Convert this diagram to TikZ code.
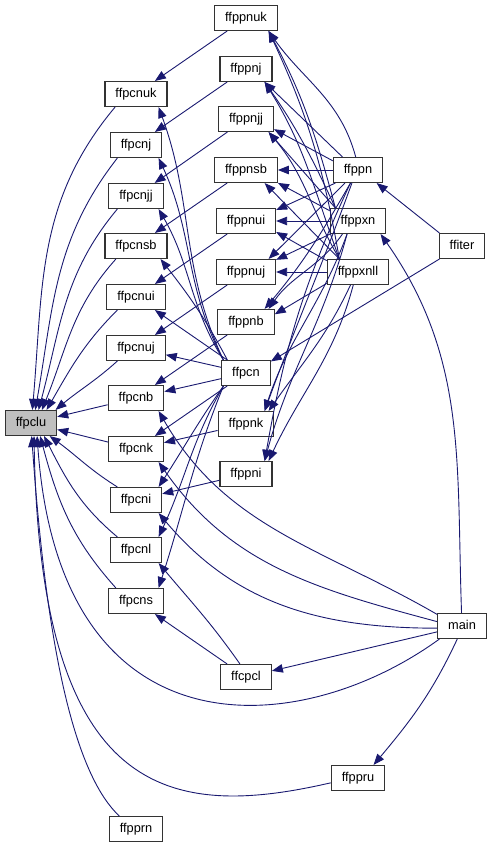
\documentclass[tikz,border=0pt]{standalone}
\usepackage{fontspec}
\setmainfont{Liberation Sans}
\usetikzlibrary{arrows.meta}
\definecolor{callblue}{HTML}{191970}
\definecolor{rootgray}{HTML}{BFBFBF}

\begin{document}
\begin{tikzpicture}[
        x=1pt, y=1pt,
        func/.style={
            % The shape:
            rectangle,
            % The size:
            minimum height=25pt,
            inner xsep=10.5pt,
            inner ysep=0pt,
            text height=9.3pt,
            text depth=2.7pt,
            % The border
            line width=1.1pt,
            draw=black!80,
            % The filling
            fill=white,
            % Font
            font=\fontsize{12.8}{15}\selectfont
        },
        root/.style={func, fill=rootgray},
        call/.style={
            draw=callblue,
            line width=0.9pt,
            -{Triangle[length=11pt,width=8.5pt]}
        }]

    \useasboundingbox (0,0) rectangle (493,-848);

    % the routine that all others reach
    \node [root] (ffpclu) at (31,-423) {ffpclu};

    % first column
    \foreach \name/\y in {ffpcnuk/94, ffpcnj/145, ffpcnjj/196, ffpcnsb/246, ffpcnui/297, ffpcnuj/348, ffpcnb/398, ffpcnk/449, ffpcni/500, ffpcnl/550, ffpcns/601, ffpprn/829}
    {
        \node [func] (\name) at (136,-\y) {\name};
    }

    % second column
    \foreach \name/\y in {ffppnuk/18, ffppnj/69, ffppnjj/119, ffppnsb/170, ffppnui/221, ffppnuj/272, ffppnb/322, ffpcn/373, ffppnk/424, ffppni/474, ffcpcl/677}
    {
        \node [func] (\name) at (246,-\y) {\name};
    }

    % third column
    \foreach \name/\y in {ffppn/170, ffppxn/221, ffppxnll/272, ffppru/778}
    {
        \node [func] (\name) at (358,-\y) {\name};
    }

    \node [func] (ffiter) at (462,-246) {ffiter};
    \node [func] (main) at (462,-626) {main};

    % calls into ffpclu
    \foreach \src/\sa/\o/\i/\ea in {ffpcnuk/212/230/85/84, ffpcnj/215/232/80/72, ffpcnjj/215/230/75/60, ffpcnsb/213/228/68/50, ffpcnui/215/225/60/40, ffpcnuj/215/222/40/28, ffpcni/145/148/-36/-35, ffpcnl/145/140/-63/-45, ffpcns/147/132/-75/-55}
    {
        \draw [call] (\src.\sa) to[out=\o,in=\i] (ffpclu.\ea);
    }
    \draw [call] (ffpcnb) -- (ffpclu);
    \draw [call] (ffpcnk) -- (ffpclu);
    \draw [call] (main.210) to[out=216,in=-86,out distance=173pt,in distance=324pt] (ffpclu.-65);
    \draw [call] (ffppru.190) to[out=193,in=-89,out distance=165pt,in distance=363pt] (ffpclu.-77);
    \draw [call] (ffpprn.142) to[out=137,in=-86,out distance=69pt,in distance=184pt] (ffpclu.-87);

    % ffpcn
    \foreach \dst/\sa/\o/\i/\ea in {ffpcnuk/150/115/-70/-30, ffpcnj/150/118/-65/-30, ffpcnjj/150/122/-60/-30, ffpcnsb/145/118/-52/-28, ffpcni/-150/-125/57/30, ffpcnl/-150/-120/65/30, ffpcns/-150/-112/72/30}
    {
        \draw [call] (ffpcn.\sa) to[out=\o,in=\i] (\dst.\ea);
    }
    \foreach \dst in {ffpcnui, ffpcnuj, ffpcnb, ffpcnk}
    {
        \draw [call] (ffpcn) -- (\dst);
    }

    % ffppn* onto ffpcn*
    \foreach \src/\dst in {ffppnuk/ffpcnuk, ffppnj/ffpcnj, ffppnjj/ffpcnjj, ffppnsb/ffpcnsb, ffppnui/ffpcnui, ffppnuj/ffpcnuj, ffppnb/ffpcnb, ffppnk/ffpcnk, ffppni/ffpcni}
    {
        \draw [call] (\src) -- (\dst);
    }

    % ffppn, ffppxn, ffppxnll onto ffppn*
    \foreach \src/\sa/\dst/\ea in {ffppn/140/ffppnj/-35, ffppn/160/ffppnjj/-20, ffppn/180/ffppnsb/0, ffppn/-150/ffppnui/20, ffppn/-135/ffppnuj/30, ffppxn/150/ffppnjj/-30, ffppxn/160/ffppnsb/-22, ffppxn/180/ffppnui/0, ffppxn/-155/ffppnuj/22, ffppxnll/145/ffppnsb/-35, ffppxnll/160/ffppnui/-20, ffppxnll/180/ffppnuj/0, ffppxnll/-160/ffppnb/15}
    {
        \draw [call] (\src.\sa) -- (\dst.\ea);
    }
    \foreach \src/\sa/\o/\i/\dst/\ea in {ffppn/100/105/-55/ffppnuk/-30, ffppn/-120/-120/50/ffppnb/35, ffppn/-115/-110/70/ffppnk/35, ffppn/-120/-115/80/ffppni/35, ffppxn/150/105/-62/ffppnuk/-30, ffppxn/150/115/-55/ffppnj/-35, ffppxn/-140/-125/55/ffppnb/30, ffppxn/-130/-110/72/ffppnk/35, ffppxn/-130/-105/75/ffppni/35, ffppxnll/145/100/-65/ffppnuk/-30, ffppxnll/145/110/-58/ffppnj/-35, ffppxnll/145/120/-50/ffppnjj/-30, ffppxnll/-120/-115/55/ffppnk/30, ffppxnll/-110/-105/65/ffppni/30}
    {
        \draw [call] (\src.\sa) to[out=\o,in=\i] (\dst.\ea);
    }

    % ffiter and main
    \draw [call] (ffiter.150) -- (ffppn.-35);
    \draw [call] (ffiter.-150) -- (ffpcn.25);
    \draw [call] (main.92) to[out=92,in=-55] (ffppxn.-30);
    \draw [call] (main.-110) to[out=-115,in=50] (ffppru.40);
    \draw [call] (main) -- (ffcpcl);
    \draw [call] (main.155) to[out=150,in=-60] (ffpcnb.-30);
    \draw [call] (main.170) to[out=165,in=-55] (ffpcnk.-30);
    \draw [call] (main.185) to[out=180,in=-50] (ffpcni.-30);

    % ffcpcl
    \draw [call] (ffcpcl) -- (ffpcns);
    \draw [call] (ffcpcl.115) to[out=125,in=-50] (ffpcnl.-30);

\end{tikzpicture}
\end{document}
